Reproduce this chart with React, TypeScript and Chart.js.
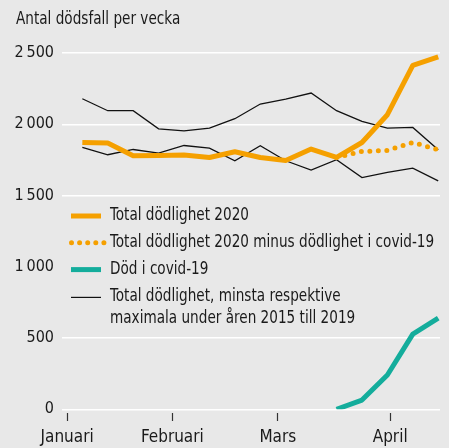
import React, { useEffect, useRef } from "react";
import { Chart, registerables } from "chart.js";

Chart.register(...registerables);

const weeks = [1, 2, 3, 4, 5, 6, 7, 8, 9, 10, 11, 12, 13, 14, 15];
const total2020 = [1872, 1868, 1779, 1781, 1784, 1767, 1807, 1767, 1746, 1826, 1767, 1872, 2067, 2413, 2472];
const totalMinusCovid = [null, null, null, null, null, null, null, null, null, null, 1767, 1809, 1816, 1872, 1821];
const covidDeaths = [null, null, null, null, null, null, null, null, null, null, 0, 65, 241, 527, 639];
const maxPrevYears = [2179, 2095, 2095, 1968, 1954, 1973, 2039, 2142, 2177, 2219, 2095, 2020, 1973, 1978, 1821];
const minPrevYears = [1837, 1786, 1823, 1798, 1851, 1833, 1744, 1849, 1744, 1678, 1751, 1626, 1662, 1692, 1603];
const monthPositions = [0.4, 4.54, 8.69, 13.11];
const monthLabels = ["Januari", "Februari", "Mars", "April"];
const yTicks = [0, 500, 1000, 1500, 2000, 2500];
const titleText = "Antal dödsfall per vecka";
const legendItems = [
  { kind: "solid", color: "#f5a000", lines: ["Total dödlighet 2020"] },
  { kind: "dots", color: "#f5a000", lines: ["Total dödlighet 2020 minus dödlighet i covid-19"] },
  { kind: "solid", color: "#14ad9c", lines: ["Död i covid-19"] },
  { kind: "thin", color: "#111111", lines: ["Total dödlighet, minsta respektive", "maximala under åren 2015 till 2019"] },
];

const FONT = "'Liberation Sans Narrow', 'DejaVu Sans Condensed', 'Roboto', sans-serif";
const ORANGE = "#f5a000";
const TEAL = "#14ad9c";
const BG = "#e8e8e8";
const TEXT = "#1a1a1a";

const pts = (arr: (number | null)[]) => weeks.map((w, i) => ({ x: w, y: arr[i] }));

function squeezeText(ctx: any, text: string, x: number, y: number, sx: number) {
  ctx.save();
  ctx.translate(x, y);
  ctx.scale(sx, 1);
  ctx.fillText(text, 0, 0);
  ctx.restore();
}

export default function App() {
  const ref = useRef<HTMLCanvasElement | null>(null);
  useEffect(() => {
    if (!ref.current) return;
    const overlay = {
      id: "overlay",
      afterDraw(chart: any) {
        const ctx = chart.ctx;
        ctx.save();
        ctx.fillStyle = TEXT;
        ctx.font = `17px ${FONT}`;
        ctx.textBaseline = "middle";
        ctx.textAlign = "left";
        squeezeText(ctx, titleText, 16, 20, 0.89);
        let y = 216;
        const rowGap = 26.8;
        legendItems.forEach((it) => {
          ctx.strokeStyle = it.color;
          if (it.kind === "solid") {
            ctx.lineWidth = 5;
            ctx.lineCap = "butt";
            ctx.setLineDash([]);
            ctx.beginPath();
            ctx.moveTo(71, y);
            ctx.lineTo(101, y);
            ctx.stroke();
          } else if (it.kind === "dots") {
            ctx.fillStyle = it.color;
            for (let k = 0; k < 5; k++) {
              ctx.beginPath();
              ctx.arc(71.5 + k * 8.1, y, 2.5, 0, Math.PI * 2);
              ctx.fill();
            }
          } else {
            ctx.lineWidth = 1.2;
            ctx.setLineDash([]);
            ctx.beginPath();
            ctx.moveTo(71, y + 1);
            ctx.lineTo(101, y + 1);
            ctx.stroke();
          }
          ctx.fillStyle = TEXT;
          it.lines.forEach((ln, j) => {
            squeezeText(ctx, ln, 110, y + j * 22, 0.89);
          });
          y += rowGap + (it.lines.length - 1) * 22;
        });
        ctx.restore();
      },
    };
    const chart = new Chart(ref.current, {
      type: "line",
      data: {
        datasets: [
          {
            label: "Död i covid-19",
            data: pts(covidDeaths),
            borderColor: TEAL,
            borderWidth: 5,
            pointRadius: 0,
            order: 0,
            borderJoinStyle: "round",
          },
          {
            label: "Total dödlighet 2020",
            data: pts(total2020),
            borderColor: ORANGE,
            borderWidth: 5,
            pointRadius: 0,
            order: 1,
            borderJoinStyle: "round",
          },
          {
            label: "Total dödlighet 2020 minus dödlighet i covid-19",
            data: pts(totalMinusCovid),
            borderColor: ORANGE,
            borderWidth: 5,
            borderDash: [0, 8.5],
            borderCapStyle: "round",
            pointRadius: 0,
            order: 2,
          },
          {
            label: "Max 2015-2019",
            data: pts(maxPrevYears),
            borderColor: "#111111",
            borderWidth: 1.3,
            pointRadius: 0,
            order: 3,
          },
          {
            label: "Min 2015-2019",
            data: pts(minPrevYears),
            borderColor: "#111111",
            borderWidth: 1.3,
            pointRadius: 0,
            order: 4,
          },
        ],
      },
      options: {
        responsive: false,
        animation: false,
        layout: { padding: { top: 53, right: 9, left: 0, bottom: 0 } },
        plugins: { legend: { display: false }, tooltip: { enabled: false }, title: { display: false } },
        scales: {
          x: {
            type: "linear",
            min: 0.2,
            max: 15.07,
            afterFit: (s: any) => {
              s.height = 38.7;
            },
            afterBuildTicks: (s: any) => {
              s.ticks = monthPositions.map((v) => ({ value: v }));
            },
            border: { display: false },
            grid: {
              drawOnChartArea: false,
              drawTicks: true,
              tickLength: 13,
              tickColor: "#333333",
              tickWidth: 1.2,
              tickBorderDash: [0, 4, 8, 100],
            },
            ticks: {
              autoSkip: false,
              maxRotation: 0,
              padding: 5,
              color: TEXT,
              font: { family: FONT, size: 17 },
              callback: (v: any) => {
                const idx = monthPositions.indexOf(Number(v));
                return idx >= 0 ? monthLabels[idx] : "";
              },
            },
          },
          y: {
            min: 0,
            max: 2500,
            afterFit: (s: any) => {
              s.width = 62;
            },
            afterBuildTicks: (s: any) => {
              s.ticks = yTicks.map((v) => ({ value: v }));
            },
            border: { display: false },
            grid: {
              drawTicks: false,
              lineWidth: 1.5,
              color: (c: any) => (c.tick && c.tick.value === 1000 ? "rgba(0,0,0,0)" : "#ffffff"),
            },
            ticks: {
              padding: 8,
              color: TEXT,
              font: { family: FONT, size: 16 },
              callback: (v: any) => {
                const n = Number(v);
                return n >= 1000 ? `${Math.floor(n / 1000)}\u2009${String(n % 1000).padStart(3, "0")}` : String(n);
              },
            },
          },
        },
      },
      plugins: [overlay],
    } as any);
    return () => chart.destroy();
  }, []);
  return (
    <div style={{ position: "fixed", left: 0, top: 0, width: 449, height: 448, background: BG }}>
      <canvas ref={ref} width={449} height={448} style={{ display: "block" }} />
    </div>
  );
}
